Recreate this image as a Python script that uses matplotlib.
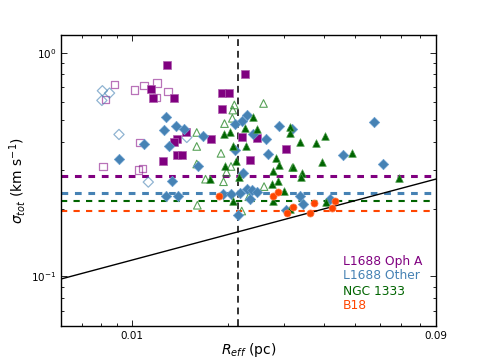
import matplotlib
matplotlib.use("Agg")
import matplotlib.pyplot as plt
import numpy as np
from matplotlib.ticker import FixedLocator, NullFormatter

# ---------------- data ----------------
opha_R = [0.01293, 0.01152, 0.01164, 0.01354, 0.0148, 0.01384, 0.01361, 0.01384, 0.01435,
          0.01256, 0.01777, 0.01923, 0.01925, 0.02019, 0.02271, 0.02213, 0.02477, 0.02355, 0.03041]
opha_s = [0.877, 0.688, 0.629, 0.629, 0.443, 0.410, 0.397, 0.349, 0.349,
          0.329, 0.413, 0.558, 0.660, 0.660, 0.803, 0.421, 0.414, 0.330, 0.373]

opha_open_R = [0.00882, 0.00828, 0.0102, 0.01093, 0.01201, 0.01299, 0.01194, 0.01062, 0.00813, 0.01052, 0.01083]
opha_open_s = [0.723, 0.619, 0.681, 0.715, 0.732, 0.673, 0.629, 0.396, 0.311, 0.299, 0.304]

other_R = [0.01281, 0.01374, 0.01265, 0.01459, 0.01095, 0.01312, 0.0091, 0.01674, 0.01609, 0.01335,
           0.01285, 0.01392, 0.02294, 0.02213, 0.02111, 0.02396, 0.02634, 0.02886, 0.0317, 0.02101,
           0.02676, 0.04608, 0.05751, 0.06151, 0.02226, 0.01929, 0.02041, 0.02193, 0.02294, 0.02377,
           0.02466, 0.02341, 0.02152, 0.03372, 0.03453, 0.04186, 0.03036]
other_s = [0.517, 0.470, 0.452, 0.455, 0.392, 0.384, 0.334, 0.424, 0.312, 0.268,
           0.228, 0.228, 0.526, 0.496, 0.482, 0.432, 0.410, 0.469, 0.454, 0.367,
           0.351, 0.349, 0.490, 0.318, 0.291, 0.233, 0.233, 0.235, 0.246, 0.243,
           0.238, 0.221, 0.188, 0.229, 0.211, 0.222, 0.199]

other_open_R = [0.00809, 0.00852, 0.00806, 0.00912, 0.01488, 0.01127]
other_open_s = [0.676, 0.660, 0.612, 0.431, 0.418, 0.264]

ngc_R = [0.02396, 0.02271, 0.02462, 0.02027, 0.01954, 0.02083, 0.02278, 0.02121, 0.01962, 0.03136,
         0.03136, 0.0336, 0.03784, 0.04047, 0.02835, 0.02903, 0.03174, 0.03211, 0.03951, 0.04924,
         0.03414, 0.03398, 0.069, 0.0278, 0.02762, 0.0287, 0.03007, 0.0217, 0.01766, 0.02071,
         0.0278, 0.04053, 0.03136]
ngc_s = [0.516, 0.460, 0.455, 0.442, 0.432, 0.384, 0.382, 0.327, 0.312, 0.467,
         0.436, 0.400, 0.394, 0.424, 0.337, 0.316, 0.309, 0.309, 0.324, 0.356,
         0.290, 0.277, 0.274, 0.295, 0.258, 0.268, 0.240, 0.277, 0.272, 0.218,
         0.217, 0.216, 0.200]

ngc_open_R = [0.0259, 0.02098, 0.02075, 0.02068, 0.01954, 0.01599, 0.01599, 0.01905, 0.01599,
              0.02048, 0.01983, 0.01704, 0.0194, 0.026, 0.02329, 0.01606, 0.02213]
ngc_open_s = [0.593, 0.584, 0.554, 0.509, 0.482, 0.440, 0.381, 0.355, 0.318,
              0.310, 0.292, 0.272, 0.265, 0.252, 0.227, 0.208, 0.196]

b18_R = [0.01872, 0.02765, 0.02866, 0.03729, 0.0434, 0.04247, 0.03211, 0.03065, 0.03611]
b18_s = [0.228, 0.228, 0.238, 0.212, 0.217, 0.203, 0.205, 0.192, 0.192]

# reference levels per region
regions = ["L1688 Oph A", "L1688 Other", "NGC 1333", "B18"]
region_colors = ["#800080", "#4682B4", "#006400", "#FF4500"]
sigma_levels = [0.281, 0.236, 0.217, 0.196]
level_widths = [2.2, 2.2, 1.5, 1.5]

beam_R = 0.0216          # vertical dashed line
larson_coef = 0.68       # sigma = coef * R^index
larson_index = 0.38

xlim = (0.006, 0.09)
ylim = (0.06, 1.2)
x_major = [0.01, 0.09]
x_major_labels = ["0.01", "0.09"]
x_minor = [0.006, 0.007, 0.008, 0.009, 0.02, 0.03, 0.04, 0.05, 0.06, 0.07, 0.08]
y_major = [0.1, 1.0]
y_major_labels = [r"$10^{-1}$", r"$10^{0}$"]
y_minor = [0.06, 0.07, 0.08, 0.09, 0.2, 0.3, 0.4, 0.5, 0.6, 0.7, 0.8, 0.9]

# ---------------- plot ----------------
fig = plt.figure(figsize=(4.85, 3.63), dpi=100)
ax = fig.add_axes([61/485, 1 - 326/363, 375/485, 291/363])
ax.set_xscale("log")
ax.set_yscale("log")

# open markers
ax.scatter(opha_open_R, opha_open_s, marker="s", s=27, facecolors="none",
           edgecolors=region_colors[0], alpha=0.55, linewidths=0.9, zorder=3)
ax.scatter(other_open_R, other_open_s, marker="D", s=27, facecolors="none",
           edgecolors=region_colors[1], alpha=0.6, linewidths=0.9, zorder=3)
ax.scatter(ngc_open_R, ngc_open_s, marker="^", s=30, facecolors="none",
           edgecolors="#2e8b2e", alpha=0.8, linewidths=0.8, zorder=3)
# filled markers
ax.scatter(opha_R, opha_s, marker="s", s=27, color=region_colors[0], edgecolors="#b060b0",
           linewidths=0.5, zorder=4)
ax.scatter(other_R, other_s, marker="D", s=28, color=region_colors[1], edgecolors="#6a9fd0",
           linewidths=0.5, zorder=4)
ax.scatter(ngc_R, ngc_s, marker="^", s=30, color=region_colors[2], edgecolors="#4a9a4a",
           linewidths=0.5, zorder=4)
ax.scatter(b18_R, b18_s, marker="o", s=26, color=region_colors[3], edgecolors="#ff8050",
           linewidths=0.5, zorder=4)

for lev, col, lw in zip(sigma_levels, region_colors, level_widths):
    ax.axhline(lev, color=col, ls=(0, (2.2, 2.2)) if lw > 2 else (0, (3, 3)), lw=lw, zorder=2)

ax.axvline(beam_R, color="#333333", ls=(0, (3.5, 2.5)), lw=1.4, zorder=2)

xr = np.array(xlim)
ax.plot(xr, larson_coef * xr ** larson_index, color="black", lw=1.0, zorder=2)

ax.set_xlim(*xlim)
ax.set_ylim(*ylim)

ax.xaxis.set_major_locator(FixedLocator(x_major))
ax.set_xticklabels(x_major_labels)
ax.xaxis.set_minor_locator(FixedLocator(x_minor))
ax.xaxis.set_minor_formatter(NullFormatter())
ax.yaxis.set_major_locator(FixedLocator(y_major))
ax.set_yticklabels(y_major_labels)
ax.yaxis.set_minor_locator(FixedLocator(y_minor))
ax.yaxis.set_minor_formatter(NullFormatter())

ax.tick_params(which="both", direction="in", top=True, right=True, labelsize=7.5, width=0.6)
ax.tick_params(which="major", length=4)
ax.tick_params(which="minor", length=2)
for sp in ax.spines.values():
    sp.set_linewidth(1.0)

ax.set_xlabel(r"$R_{eff}$ (pc)", fontsize=10, labelpad=0)
ax.set_ylabel(r"$\sigma_{tot}$ (km s$^{-1}$)", fontsize=10, labelpad=2)

ys = [0.22, 0.172, 0.12, 0.072]
for name, col, yy in zip(regions, region_colors, ys):
    ax.text(0.752, yy, name, color=col, fontsize=8.8, transform=ax.transAxes,
            ha="left", va="center")

fig.savefig("out.png", dpi=100)
